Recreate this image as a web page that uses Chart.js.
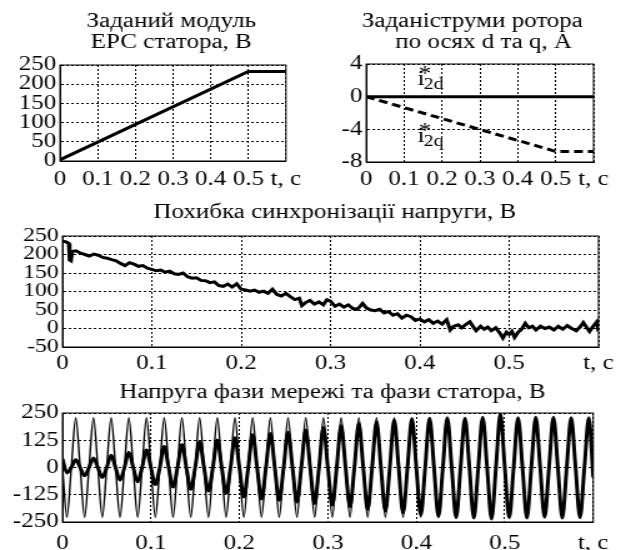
<!DOCTYPE html>
<html>
<head>
<meta charset="utf-8">
<script src="https://cdn.jsdelivr.net/npm/chart.js@4.4.0/dist/chart.umd.min.js"></script>
<style>
  html, body { margin: 0; padding: 0; background: #fff; overflow: hidden; }
  body { position: relative; width: 621px; height: 550px; }
  canvas { position: absolute; }
</style>
</head>
<body>
<script>
// ---- data ----
const xTickLabels = ["0", "0.1", "0.2", "0.3", "0.4", "0.5", "t, c"];

// Заданий модуль ЕРС статора, В
const emfT = [0, 0.5, 0.6];
const emfV = [3, 233, 233];

// Задані струми ротора, А
const i2T = [0, 0.5, 0.6];
const i2dV = [0, 0, 0];
const i2qV = [0, -6.7, -6.7];

// Похибка синхронізації напруги, В
const errT = [0, 0.004, 0.007, 0.008, 0.0095, 0.011, 0.015, 0.02, 0.025, 0.03,
  0.035, 0.04, 0.045, 0.05, 0.055, 0.06, 0.065, 0.07, 0.075, 0.08,
  0.085, 0.09, 0.095, 0.1, 0.105, 0.11, 0.115, 0.12, 0.125, 0.13,
  0.135, 0.14, 0.145, 0.15, 0.155, 0.16, 0.165, 0.17, 0.175, 0.18,
  0.185, 0.19, 0.195, 0.2, 0.205, 0.21, 0.215, 0.22, 0.225, 0.23,
  0.235, 0.24, 0.245, 0.25, 0.255, 0.26, 0.265, 0.268, 0.272, 0.277,
  0.282, 0.287, 0.292, 0.296, 0.3, 0.305, 0.31, 0.315, 0.32, 0.325,
  0.33, 0.336, 0.34, 0.345, 0.35, 0.355, 0.36, 0.365, 0.37, 0.375,
  0.38, 0.385, 0.39, 0.395, 0.4, 0.405, 0.41, 0.415, 0.42, 0.425,
  0.43, 0.434, 0.438, 0.443, 0.447, 0.452, 0.456, 0.46, 0.463, 0.468,
  0.472, 0.476, 0.48, 0.485, 0.49, 0.493, 0.497, 0.5, 0.503, 0.506,
  0.51, 0.514, 0.518, 0.522, 0.526, 0.53, 0.535, 0.54, 0.545, 0.55,
  0.555, 0.56, 0.565, 0.57, 0.575, 0.58, 0.583, 0.587, 0.59, 0.594,
  0.598, 0.6];
const errV = [236, 234, 230, 185, 183, 208, 210, 204, 200, 196,
  201, 198, 192, 190, 186, 183, 176, 170, 178, 174,
  168, 170, 163, 160, 156, 158, 152, 155, 148, 146,
  150, 140, 136, 137, 130, 129, 124, 126, 116, 114,
  120, 112, 121, 106, 104, 101, 104, 98, 101, 95,
  106, 92, 88, 95, 86, 78, 82, 62, 70, 76,
  66, 72, 64, 78, 74, 60, 66, 58, 64, 54,
  52, 68, 56, 50, 48, 52, 42, 46, 36, 40,
  28, 36, 32, 22, 26, 18, 24, 14, 20, 12,
  24, -4, 6, 10, 2, 12, 18, 4, -6, 6,
  -2, 4, -6, 2, -14, -26, -10, -16, -8, -24,
  -10, -2, 14, 2, 6, -4, 6, 0, 4, -4,
  6, -2, 8, 0, -6, 6, 16, 2, -8, 6,
  18, -8];

// Напруга фази мережі та фази статора, В: extrema of each half-period
const gridExt = [
  -228, 228, -228, 228, -228, 228, -228, 228, -228, 228,
  -228, 228, -228, 228, -228, 228, -228, 228, -228, 228,
  -228, 228, -228, 228, -228, 228, -228, 228, -228, 228,
  -228, 228, -228, 228, -228, 228, -228, 228, -228, 228,
  -228, 228, -228, 228, -228, 228, -228, 228, -228, 228,
  -228, 228, -228, 228, -228, 228, -228, 228, -228, 228];
const statorExt = [
  -25, 36, -38, 44, -46, 56, -58, 70, -66, 80,
  -78, 96, -90, 104, -100, 116, -108, 126, -118, 136,
  -135, 150, -145, 156, -150, 162, -158, 172, -165, 184,
  -172, 192, -180, 202, -192, 210, -200, 218, -208, 224,
  -218, 226, -225, 228, -230, 226, -232, 230, -236, 245,
  -230, 228, -232, 230, -228, 230, -232, 228, -230, 228];
const statorStart = 40;
const statorEnd = -45;

// ---- drawing ----
const SERIF = "'Liberation Serif', 'Times New Roman', serif";
const S = 1.25; // the original figure is stretched horizontally

function addCanvas(left, top, w, h) {
  const c = document.createElement("canvas");
  c.width = w;
  c.height = h;
  c.style.left = left + "px";
  c.style.top = top + "px";
  c.style.width = w * S + "px";
  c.style.height = h + "px";
  document.body.appendChild(c);
  return c;
}

function pts(xs, ys) {
  return xs.map((x, i) => ({ x: x, y: ys[i] }));
}

// peaks/troughs at mid half-period, zero crossings in between
function wave(ext, start, end) {
  const out = [{ x: 0, y: start }];
  ext.forEach((v, k) => {
    out.push({ x: 0.005 + 0.01 * k, y: v });
    out.push({ x: 0.01 * (k + 1), y: 0 });
  });
  out[out.length - 1].y = end;
  return out;
}

function xAxis(size, pad, height) {
  return {
    type: "linear",
    min: 0,
    max: 0.6,
    afterFit: (s) => { s.height = height; },
    ticks: {
      stepSize: 0.1,
      autoSkip: false,
      maxRotation: 0,
      padding: pad,
      color: "#000",
      font: { family: SERIF, size: size },
      callback: (v) => xTickLabels[Math.round(v * 10)],
    },
    grid: { color: "#000", lineWidth: 1, drawTicks: false },
    border: { color: "#000", width: 1, dash: [2, 2] },
  };
}

function yAxis(min, max, step, size, width) {
  return {
    min: min,
    max: max,
    afterFit: (s) => { s.width = width; },
    ticks: {
      stepSize: step,
      autoSkip: false,
      padding: 3,
      color: "#000",
      font: { family: SERIF, size: size },
    },
    grid: { color: "#000", lineWidth: 1, drawTicks: false },
    border: { color: "#000", width: 1, dash: [2, 2] },
  };
}

function decor(titles, extra) {
  return {
    id: "decor",
    afterDraw(chart) {
      const { ctx, chartArea: a } = chart;
      ctx.save();
      ctx.setLineDash([]);
      ctx.strokeStyle = "#000";
      ctx.lineWidth = 1;
      ctx.strokeRect(a.left, a.top, a.right - a.left, a.bottom - a.top);
      ctx.fillStyle = "#000";
      ctx.textAlign = "center";
      ctx.textBaseline = "middle";
      titles.forEach((t) => {
        ctx.font = t.size + "px " + SERIF;
        ctx.fillText(t.text, t.x, t.y);
      });
      if (extra) extra(chart, ctx);
      ctx.restore();
    },
  };
}

function line(data, width, extra) {
  return Object.assign({
    data: data,
    borderColor: "#000",
    borderWidth: width,
    pointRadius: 0,
    fill: false,
    tension: 0,
  }, extra || {});
}

function base(pad) {
  return {
    responsive: false,
    animation: false,
    events: [],
    layout: { padding: pad },
    plugins: { legend: { display: false }, tooltip: { enabled: false } },
  };
}

// 1. Заданий модуль ЕРС статора
new Chart(addCanvas(0, 0, 248, 195), {
  type: "line",
  data: { datasets: [line(pts(emfT, emfV), 3)] },
  options: Object.assign(base({ left: 0, right: 16, top: 65, bottom: 0 }), {
    scales: { x: xAxis(20, 7, 34), y: yAxis(0, 250, 50, 20, 48) },
  }),
  plugins: [decor([
    { text: "Заданий модуль", x: 137, y: 22, size: 20 },
    { text: "ЕРС статора, В", x: 137, y: 43, size: 20 },
  ])],
});

// 2. Задані струми ротора
const i2Labels = [
  { t: 0.135, v: 1.4, sub: "2d" },
  { t: 0.135, v: -5.5, sub: "2q" },
];
new Chart(addCanvas(310, 0, 249, 195), {
  type: "line",
  data: {
    datasets: [
      line(pts(i2T, i2dV), 3),
      line(pts(i2T, i2qV), 3, { borderDash: [7, 4] }),
    ],
  },
  options: Object.assign(base({ left: 0, right: 22, top: 64, bottom: 0 }), {
    scales: { x: xAxis(20, 6, 33), y: yAxis(-8, 4, 4, 20, 45) },
  }),
  plugins: [decor([
    { text: "Заданіструми ротора", x: 130, y: 22, size: 20 },
    { text: "по осях d та q, А", x: 139, y: 43, size: 20 },
  ], (chart, ctx) => {
    const xs = chart.scales.x, ys = chart.scales.y;
    ctx.textAlign = "left";
    ctx.textBaseline = "alphabetic";
    i2Labels.forEach((l) => {
      const x = xs.getPixelForValue(l.t), y = ys.getPixelForValue(l.v);
      ctx.font = "21px " + SERIF;
      ctx.fillText("i", x, y);
      ctx.font = "20px " + SERIF;
      ctx.fillText("*", x + 1, y - 5);
      ctx.font = "16px " + SERIF;
      ctx.fillText(l.sub, x + 5, y + 4);
    });
  })],
});

// 3. Похибка синхронізації напруги
new Chart(addCanvas(0, 195, 497, 180), {
  type: "line",
  data: { datasets: [line(pts(errT, errV), 3)] },
  options: Object.assign(base({ left: 0, right: 18, top: 41, bottom: 0 }), {
    scales: { x: xAxis(20, 5, 28), y: yAxis(-50, 250, 50, 19, 50) },
  }),
  plugins: [decor([
    { text: "Похибка синхронізації напруги, В", x: 268, y: 18, size: 20 },
  ])],
});

// 4. Напруга фази мережі та фази статора
new Chart(addCanvas(0, 375, 497, 175), {
  type: "line",
  data: {
    datasets: [
      line(wave(statorExt, statorStart, statorEnd), 3, { cubicInterpolationMode: "monotone" }),
      line(wave(gridExt, 0, 0), 1.4, { cubicInterpolationMode: "monotone" }),
    ],
  },
  options: Object.assign(base({ left: 0, right: 18, top: 38, bottom: 0 }), {
    scales: { x: xAxis(20, 10, 28), y: yAxis(-250, 250, 125, 20, 50) },
  }),
  plugins: [decor([
    { text: "Напруга фази мережі та фази статора, В", x: 266, y: 18, size: 20 },
  ])],
});
</script>
</body>
</html>
